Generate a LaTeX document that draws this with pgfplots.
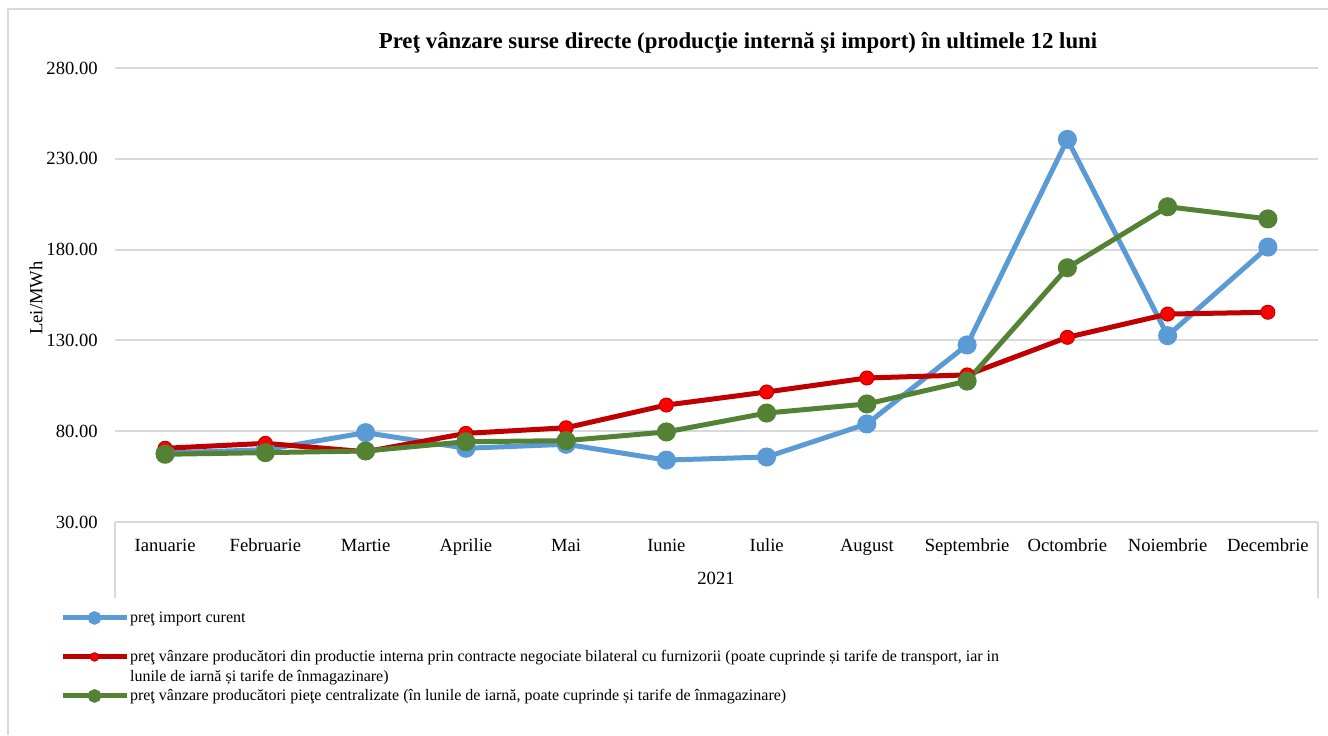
\documentclass[border=0pt]{standalone}
\usepackage{fontspec}
\setmainfont{Liberation Serif}
\usepackage{pgfplots}
\pgfplotsset{compat=1.18}

\definecolor{cblue}{HTML}{5B9BD5}
\definecolor{cred}{HTML}{C00000}
\definecolor{cmark}{HTML}{FF0000}
\definecolor{cgreen}{HTML}{548235}
\definecolor{cgrid}{HTML}{D9D9D9}

% legend text: fixed height/depth so every row is spaced the same
\newcommand{\lgd}[1]{\raisebox{0pt}[7pt][2pt]{#1}}

% 1 px of the reference = 0.5pt
\begin{document}
\begin{tikzpicture}
\useasboundingbox (0,0) rectangle (664pt,367.5pt);

\begin{axis}[
  at={(57.5pt,106.5pt)}, anchor=south west,
  scale only axis, width=601.5pt, height=227pt,
  xmin=-0.5, xmax=11.5, ymin=30, ymax=280,
  xtick={0,...,11},
  xticklabels={Ianuarie,Februarie,Martie,Aprilie,Mai,Iunie,Iulie,August,Septembrie,Octombrie,Noiembrie,Decembrie},
  ytick={30,80,...,280},
  ymajorgrids, grid style={cgrid,line width=1pt},
  axis line style={draw=none},
  major tick length=0pt,
  tick label style={font=\fontsize{9.3}{11}\selectfont, inner sep=0pt},
  xticklabel style={anchor=base, yshift=-14.5pt},
  yticklabel style={anchor=east, xshift=-8.5pt},
  /pgf/number format/.cd, fixed, fixed zerofill, precision=2, 1000 sep={}, assume math mode=true,
  /pgfplots/.cd,
  clip=false,
  every axis plot/.append style={line width=2.5pt, mark=*, mark size=3.5pt},
  legend image code/.code={\draw[#1,mark repeat=2,mark phase=2,mark size=2.1pt] plot coordinates {(0pt,2.4pt)(16pt,2.4pt)(32pt,2.4pt)};},
  legend style={at={(rel axis cs:-0.046,-0.188)}, anchor=north west, draw=none, fill=none,
    inner sep=0pt, font=\fontsize{8}{10}\selectfont, row sep=10pt, column sep=0pt,
    nodes={inner sep=0.5pt, anchor=base west}},
  legend cell align=left,
]
\addplot[cblue, mark options={fill=cblue,draw=cblue}] coordinates {
 (0,68.0) (1,69.8) (2,79.2) (3,70.6) (4,72.8) (5,64.1)
 (6,65.8) (7,84.0) (8,127.5) (9,240.7) (10,132.6) (11,181.4)};
\addplot[cred, mark options={fill=cmark,draw=cred,line width=0.5pt}] coordinates {
 (0,70.6) (1,73.3) (2,68.7) (3,78.8) (4,81.9) (5,94.4)
 (6,101.6) (7,109.3) (8,111.0) (9,131.7) (10,144.5) (11,145.5)};
\addplot[cgreen, mark options={fill=cgreen,draw=cgreen}] coordinates {
 (0,67.3) (1,68.2) (2,69.1) (3,74.2) (4,74.8) (5,79.6)
 (6,90.0) (7,95.0) (8,107.6) (9,170.0) (10,203.6) (11,196.9)};
\legend{{\lgd{preţ import curent}},
  {\lgd{\parbox[t]{480pt}{preţ vânzare producători din productie interna prin contracte negociate bilateral cu furnizorii (poate cuprinde și tarife de transport, iar in\\lunile de iarnă și tarife de înmagazinare)}}},
  {\lgd{preţ vânzare producători pieţe centralizate (în lunile de iarnă, poate cuprinde și tarife de înmagazinare)}}}
\end{axis}

\begin{scope}[x=0.5pt,y=-0.5pt,yshift=367.5pt]
\draw[cgrid,line width=1pt] (8,735) -- (8,9) -- (1328,9);
\draw[cgrid,line width=1pt] (115,522) -- (115,598) (1318,522) -- (1318,598);
\node[font=\fontsize{9.3}{11}\selectfont, anchor=base] at (716,584) {2021};
\node[font=\fontsize{9.3}{11}\selectfont, rotate=90] at (36,298) {Lei/MWh};
\node[font=\bfseries\fontsize{11.4}{14}\selectfont] at (738,43) {Preţ vânzare surse directe (producţie internă şi import) în ultimele 12 luni};
\end{scope}
\end{tikzpicture}
\end{document}
